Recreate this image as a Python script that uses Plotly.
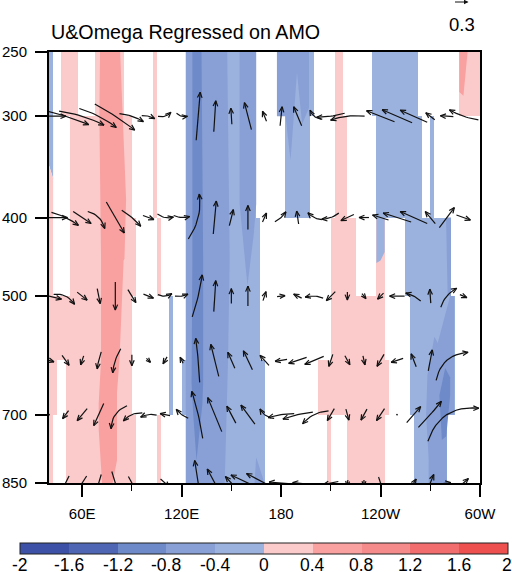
import math
import plotly.graph_objects as go

# ---------- data ----------
TITLE = "U&Omega Regressed on AMO"
LEVELS = [300, 400, 500, 600, 700, 850]
VEC_LON = list(range(40, 301, 10))
REF_VALUE = 0.3

P_TICKS = [250, 300, 400, 500, 700, 850]
LON_TICKS = [60, 120, 180, 240, 300]
LON_LABELS = ["60E", "120E", "180", "120W", "60W"]
LON_MINOR = [90, 150, 210, 270]
CB_TICKS = [-2, -1.6, -1.2, -0.8, -0.4, 0, 0.4, 0.8, 1.2, 1.6, 2]
CB_LABELS = ["-2", "-1.6", "-1.2", "-0.8", "-0.4", "0", "0.4", "0.8", "1.2", "1.6", "2"]
BIN_COLORS = ["#3D52A6", "#4E66B3", "#6F8AC8", "#88A0D5", "#9BB2DE",
              "#FBCACA", "#F9A0A0", "#F68B8B", "#F26E6E", "#EE5050"]

# zonal wind regression at each level
U_300 = [.68,.94,.90,.74,.80,.48,.26,.26,.22,.08,.04,-.02,-.14,-.08,.04,-.16,-.22,-.56,-.68,0,-.56,-.60,-.54,-.18,-.26,-.58,0]
U_400 = [.74,.54,.36,.34,.36,.38,.22,.32,.32,.22,.06,.08,0,.08,.22,-.04,-.28,-.34,-.26,-.20,-.32,-.56,-.54,-.20,.30,.28,0]
U_500 = [.50,.42,.20,.06,0,.16,.20,.28,.26,.20,.04,0,0,.06,.16,-.16,-.36,-.18,0,.08,-.12,-.30,-.30,-.02,.32,.14,0]
U_600 = [.20,.14,-.06,-.08,-.16,0,.08,-.08,-.06,-.08,-.16,-.14,-.18,-.18,-.24,-.36,-.38,-.08,.10,.04,-.14,-.24,-.10,.08,.64,0,0]
U_700 = [.02,-.12,-.20,-.20,-.32,-.38,-.32,-.20,-.24,-.22,-.28,-.18,-.28,-.22,-.52,-.60,-.52,-.14,.06,-.12,-.16,.01,.28,.46,1.02,0,0]
U_850 = [0,-.14,-.18,-.10,.14,.14,0,.18,0,-.14,-.30,-.24,-.68,-.72,-.48,-.20,0,-.30,-.02,0,.08,0,.10,.14,.16,.20,0]

# omega regression at each level (positive = downward)
W_300 = [0,.30,.28,.38,.52,.16,.06,-.08,.06,-.96,-.62,-.32,-.54,-.20,-.38,-.38,-.18,.08,.08,0,-.22,-.26,-.24,-.14,-.02,-.20,0]
W_400 = [0,.26,.24,.34,.62,.32,.08,.06,.02,-.90,-.66,-.32,-.48,-.18,-.20,-.26,-.14,.12,.12,0,-.10,-.18,-.24,-.24,-.40,.10,0]
W_500 = [.12,.20,.16,.30,.56,.26,.08,-.02,-.04,-.84,-.62,-.30,-.40,-.18,-.02,-.08,-.02,.18,.16,.10,.12,0,-.16,-.28,-.38,.06,0]
W_600 = [.06,.20,.18,.34,.48,.22,.08,.14,-.12,-.88,-.64,-.32,-.38,-.20,.04,.12,.16,.24,.18,.18,.24,.08,-.26,-.42,-.56,0,0]
W_700 = [0,.16,.24,.44,.46,.16,.04,-.04,-.18,-.94,-.68,-.34,-.38,-.18,.08,.14,.26,.24,.22,.22,.24,0,-.32,-.52,-.66,0,0]
W_850 = [0,.28,.28,.34,.46,.26,0,.16,0,-.90,-.56,-.26,-.32,-.38,-.04,-.02,0,.06,.12,.12,.24,0,-.16,-.34,-.02,-.18,0]

# sideways sag of the curly vectors (level, lon): value
CURL = {(300,50):2,(300,60):4,(300,70):4,(300,80):2,(300,90):3,(300,100):2,(300,110):-4,(300,120):-3,
        (300,200):4,(300,210):2,(300,220):-4,(300,290):3,
        (400,50):3,(400,70):7,(400,90):2,(400,110):-4,(400,120):-3,(400,130):-9,(400,180):-2,(400,200):3,(400,210):3,
        (500,50):7,(500,110):-4,(500,120):-2,(500,130):-2,(500,200):-3,(500,260):-2,(500,280):5,
        (600,70):-1,(600,80):-3,(600,130):-1,(600,280):16,
        (700,80):-9,(700,90):-5,(700,100):-3,(700,120):2,(700,130):-2,(700,170):3,(700,180):-2,(700,190):-2,(700,200):-6,(700,270):-1,(700,280):24}

# shaded runs: longitudes of regression in -0.4..0 and 0..0.4, per pressure band
BAND_EDGES = [250, 300, 400, 500, 600, 700, 850]
LON_STEP = 2.5
NEG_RUNS = [
    [(40, 42.5), (122.5, 165), (177.5, 200), (235, 262.5)],
    [(122.5, 165), (182.5, 197.5), (237.5, 265), (270, 272.5)],
    [(122.5, 167.5), (255, 282.5)],
    [(112.5, 115), (122.5, 167.5), (257.5, 285)],
    [(112.5, 115), (120, 170), (257.5, 285)],
    [(122.5, 170), (260, 280)],
]
POS_RUNS = [
    [(47.5, 57.5), (67.5, 85), (102.5, 105), (212.5, 217.5), (287.5, 300)],
    [(52.5, 90), (102.5, 105), (212.5, 220)],
    [(40, 42.5), (52.5, 92.5), (105, 107.5), (210, 225), (237.5, 242.5)],
    [(40, 90), (210, 242.5)],
    [(40, 45), (50, 90), (202.5, 245)],
    [(40, 42.5), (50, 92.5), (105, 107.5), (207.5, 210), (220, 242.5)],
]

# contour regions: (colour bin, longitudes, pressures)
REGIONS = [
    (4, [40, 42.5, 42.5, 40], [300, 300, 358, 345]),
    (5, [40, 42.5, 42.5, 40], [345, 358, 400, 400]),
    (6, [70.8, 82.9, 86.5, 85.5, 85, 83.9, 82.5, 81, 81, 78.4, 72, 70, 70, 71.4, 71.8, 71.4, 70.4],
        [250, 250, 380, 450, 452, 520, 600, 658, 797, 850, 850, 730, 678, 600, 452, 450, 300]),
    (6, [287.5, 292.5, 290, 287.5], [250, 250, 283, 280]),
    (3, [122.5, 147.5, 149, 148, 146, 122.5], [250, 250, 450, 600, 850, 850]),
    (2, [126.5, 132, 133, 133, 132.5, 129, 127, 126, 126.5], [250, 250, 450, 640, 680, 797, 700, 640, 450]),
    (3, [155, 165, 165, 163.5, 159.7, 156.5, 155], [250, 250, 385, 420, 485, 420, 385]),
    (3, [165, 170, 164], [790, 850, 850]),
    (3, [177.5, 196.8, 196.8, 192.7, 189.6, 185.7, 182.7, 177.5], [250, 250, 293, 307, 265, 340, 300, 300]),
    (4, [237.5, 242.5, 242.5, 240, 237.5], [400, 400, 441, 452, 455]),
    (3, [279.5, 282.5, 282.5, 280.5], [400, 400, 500, 500]),
    (3, [272.5, 274.5, 279, 282, 284.5, 284.5, 280, 280, 269, 269, 267.5, 268.3],
        [561, 571, 527, 500, 500, 700, 700, 850, 850, 792, 700, 625]),
    (2, [279, 275.5, 277, 279.6, 282, 282], [613, 663, 752, 745, 663, 630]),
]

# ---------- layout constants ----------
WIDTH, HEIGHT = 512, 572
LEFT, RIGHT, TOP, BOTTOM = 49, 480.5, 52, 483
PLOT_W, PLOT_H = RIGHT - LEFT, BOTTOM - TOP
LON0, LON1 = 40, 300
PX_PER_UNIT = 50
PX_PER_LON = PLOT_W / (LON1 - LON0)
PX_PER_DEC = PLOT_H / (math.log10(850) - math.log10(250))
CB_LEFT, CB_WIDTH = 20, 488


def zmid(b):
    return -2 + 0.4 * b + 0.2


# ---------- shading grid ----------
n_lon = int((LON1 - LON0) / LON_STEP)
lon_edges = [LON0 + LON_STEP * i for i in range(n_lon + 1)]
z = []
for neg, pos in zip(NEG_RUNS, POS_RUNS):
    row = [None] * n_lon
    for i in range(n_lon):
        c = lon_edges[i] + LON_STEP / 2
        if any(a < c < b for a, b in neg):
            row[i] = zmid(4)
        if any(a < c < b for a, b in pos):
            row[i] = zmid(5)
    z.append(row)

colorscale = []
for i, c in enumerate(BIN_COLORS):
    colorscale += [[i / 10, c], [(i + 1) / 10, c]]

fig = go.Figure()
fig.add_trace(go.Heatmap(
    x=lon_edges, y=BAND_EDGES, z=z, zmin=-2, zmax=2, colorscale=colorscale,
    hoverinfo="skip", hoverongaps=False,
    colorbar=dict(
        orientation="h", xref="paper", yref="paper",
        x=(CB_LEFT - LEFT) / PLOT_W, xanchor="left",
        y=(BOTTOM - 543) / PLOT_H, yanchor="top",
        lenmode="pixels", len=CB_WIDTH, thicknessmode="pixels", thickness=10.5,
        xpad=0, ypad=0, outlinecolor="#222222", outlinewidth=1, borderwidth=0,
        tickmode="array", tickvals=[], ticks="", showticklabels=False,
    ),
))

for b, lons, ps in REGIONS:
    fig.add_trace(go.Scatter(
        x=lons + lons[:1], y=ps + ps[:1], mode="lines", fill="toself",
        fillcolor=BIN_COLORS[b], line=dict(width=0), hoverinfo="skip", showlegend=False))


# ---------- curly vectors ----------
def to_data(lon, p, dx_px, dy_px):
    return lon + dx_px / PX_PER_LON, 10 ** (math.log10(p) + dy_px / PX_PER_DEC)


xs, ys = [], []
U_ALL = [U_300, U_400, U_500, U_600, U_700, U_850]
W_ALL = [W_300, W_400, W_500, W_600, W_700, W_850]
for lev, us, ws in zip(LEVELS, U_ALL, W_ALL):
    for lon, u, w in zip(VEC_LON, us, ws):
        dx, dy = u * PX_PER_UNIT, w * PX_PER_UNIT
        L = math.hypot(dx, dy)
        if L == 0:
            continue
        b = CURL.get((lev, lon), 0)
        nx, ny = dy / L, -dx / L
        cx, cy = nx * b, ny * b
        pts = []
        N = 12
        for k in range(N + 1):
            t = k / N
            # the curve's own midpoint sits on the grid point
            px = (1 - t) ** 2 * (-dx / 2) + 2 * t * (1 - t) * cx + t ** 2 * (dx / 2) - cx / 2
            py = (1 - t) ** 2 * (-dy / 2) + 2 * t * (1 - t) * cy + t ** 2 * (dy / 2) - cy / 2
            pts.append((px, py))
        for px, py in pts:
            a, c = to_data(lon, lev, px, py)
            xs.append(a); ys.append(c)
        xs.append(None); ys.append(None)
        # open head
        tx, ty = pts[-1]
        ax, ay = tx - pts[-3][0], ty - pts[-3][1]
        al = math.hypot(ax, ay) or 1
        ax, ay = ax / al, ay / al
        hl = min(5.5, 0.7 * L + 0.5)
        hw = hl * 0.42
        for s in (1, -1):
            hx = tx - ax * hl + s * (-ay) * hw
            hy = ty - ay * hl + s * ax * hw
            a, c = to_data(lon, lev, hx, hy)
            xs.append(a); ys.append(c)
            a, c = to_data(lon, lev, tx, ty)
            xs.append(a); ys.append(c)
            xs.append(None); ys.append(None)

fig.add_trace(go.Scatter(x=xs, y=ys, mode="lines", line=dict(color="#111111", width=1.2),
                         hoverinfo="skip", showlegend=False, connectgaps=False))

# reference vector
ref_len = REF_VALUE * PX_PER_UNIT
fig.add_annotation(
    xref="paper", yref="paper", x=(469 - LEFT) / PLOT_W, y=(BOTTOM - 2) / PLOT_H,
    ax=-ref_len, ay=0, text="", showarrow=True, arrowhead=2, arrowsize=0.9,
    arrowwidth=1, arrowcolor="#111111", standoff=0, startstandoff=0)
fig.add_annotation(
    xref="paper", yref="paper", x=(462 - LEFT) / PLOT_W, y=(BOTTOM - 24) / PLOT_H,
    text=f"{REF_VALUE}", showarrow=False, xanchor="center", yanchor="middle",
    font=dict(family="Liberation Sans", size=18.5, color="black"))

# colourbar labels
for v, t in zip(CB_TICKS, CB_LABELS):
    px = CB_LEFT + (v + 2) / 4 * CB_WIDTH
    fig.add_annotation(
        xref="paper", yref="paper", x=(px - LEFT) / PLOT_W, y=(BOTTOM - 565) / PLOT_H,
        text=t, showarrow=False, xanchor="center", yanchor="middle", borderpad=0,
        font=dict(family="Liberation Sans", size=17.5, color="black"))

fig.update_layout(
    width=WIDTH, height=HEIGHT, plot_bgcolor="white", paper_bgcolor="white",
    margin=dict(l=LEFT, r=WIDTH - RIGHT, t=TOP, b=HEIGHT - BOTTOM, autoexpand=False, pad=0),
    title=dict(text=TITLE, x=51 / WIDTH, xanchor="left", xref="container",
               y=1 - 32 / HEIGHT, yanchor="middle", yref="container",
               font=dict(family="Liberation Sans", size=19.7, color="black")),
    font=dict(family="Liberation Sans", color="black"),
    showlegend=False,
    xaxis=dict(range=[LON0, LON1], tickmode="array", tickvals=LON_TICKS, ticktext=LON_LABELS,
               ticks="outside", ticklen=12, tickwidth=2, tickcolor="black",
               showgrid=False, zeroline=False, showline=True, linecolor="black", linewidth=2,
               mirror=True, ticklabelstandoff=4,
               tickfont=dict(family="Liberation Sans", size=15, color="black"),
               minor=dict(tickmode="array", tickvals=LON_MINOR, ticks="outside", ticklen=6,
                          tickwidth=1.2, tickcolor="black", showgrid=False)),
    yaxis=dict(type="log", range=[math.log10(850), math.log10(250)], tickmode="array",
               tickvals=P_TICKS, ticktext=[str(p) for p in P_TICKS],
               ticks="outside", ticklen=12, tickwidth=2, tickcolor="black",
               showgrid=False, zeroline=False, showline=True, linecolor="black", linewidth=2,
               mirror=True, ticklabelstandoff=5,
               tickfont=dict(family="Liberation Sans", size=15, color="black")),
)

fig.write_html("out.html", config={"displayModeBar": False},
               post_script="document.body.style.margin='0';document.body.style.overflow='hidden';")
